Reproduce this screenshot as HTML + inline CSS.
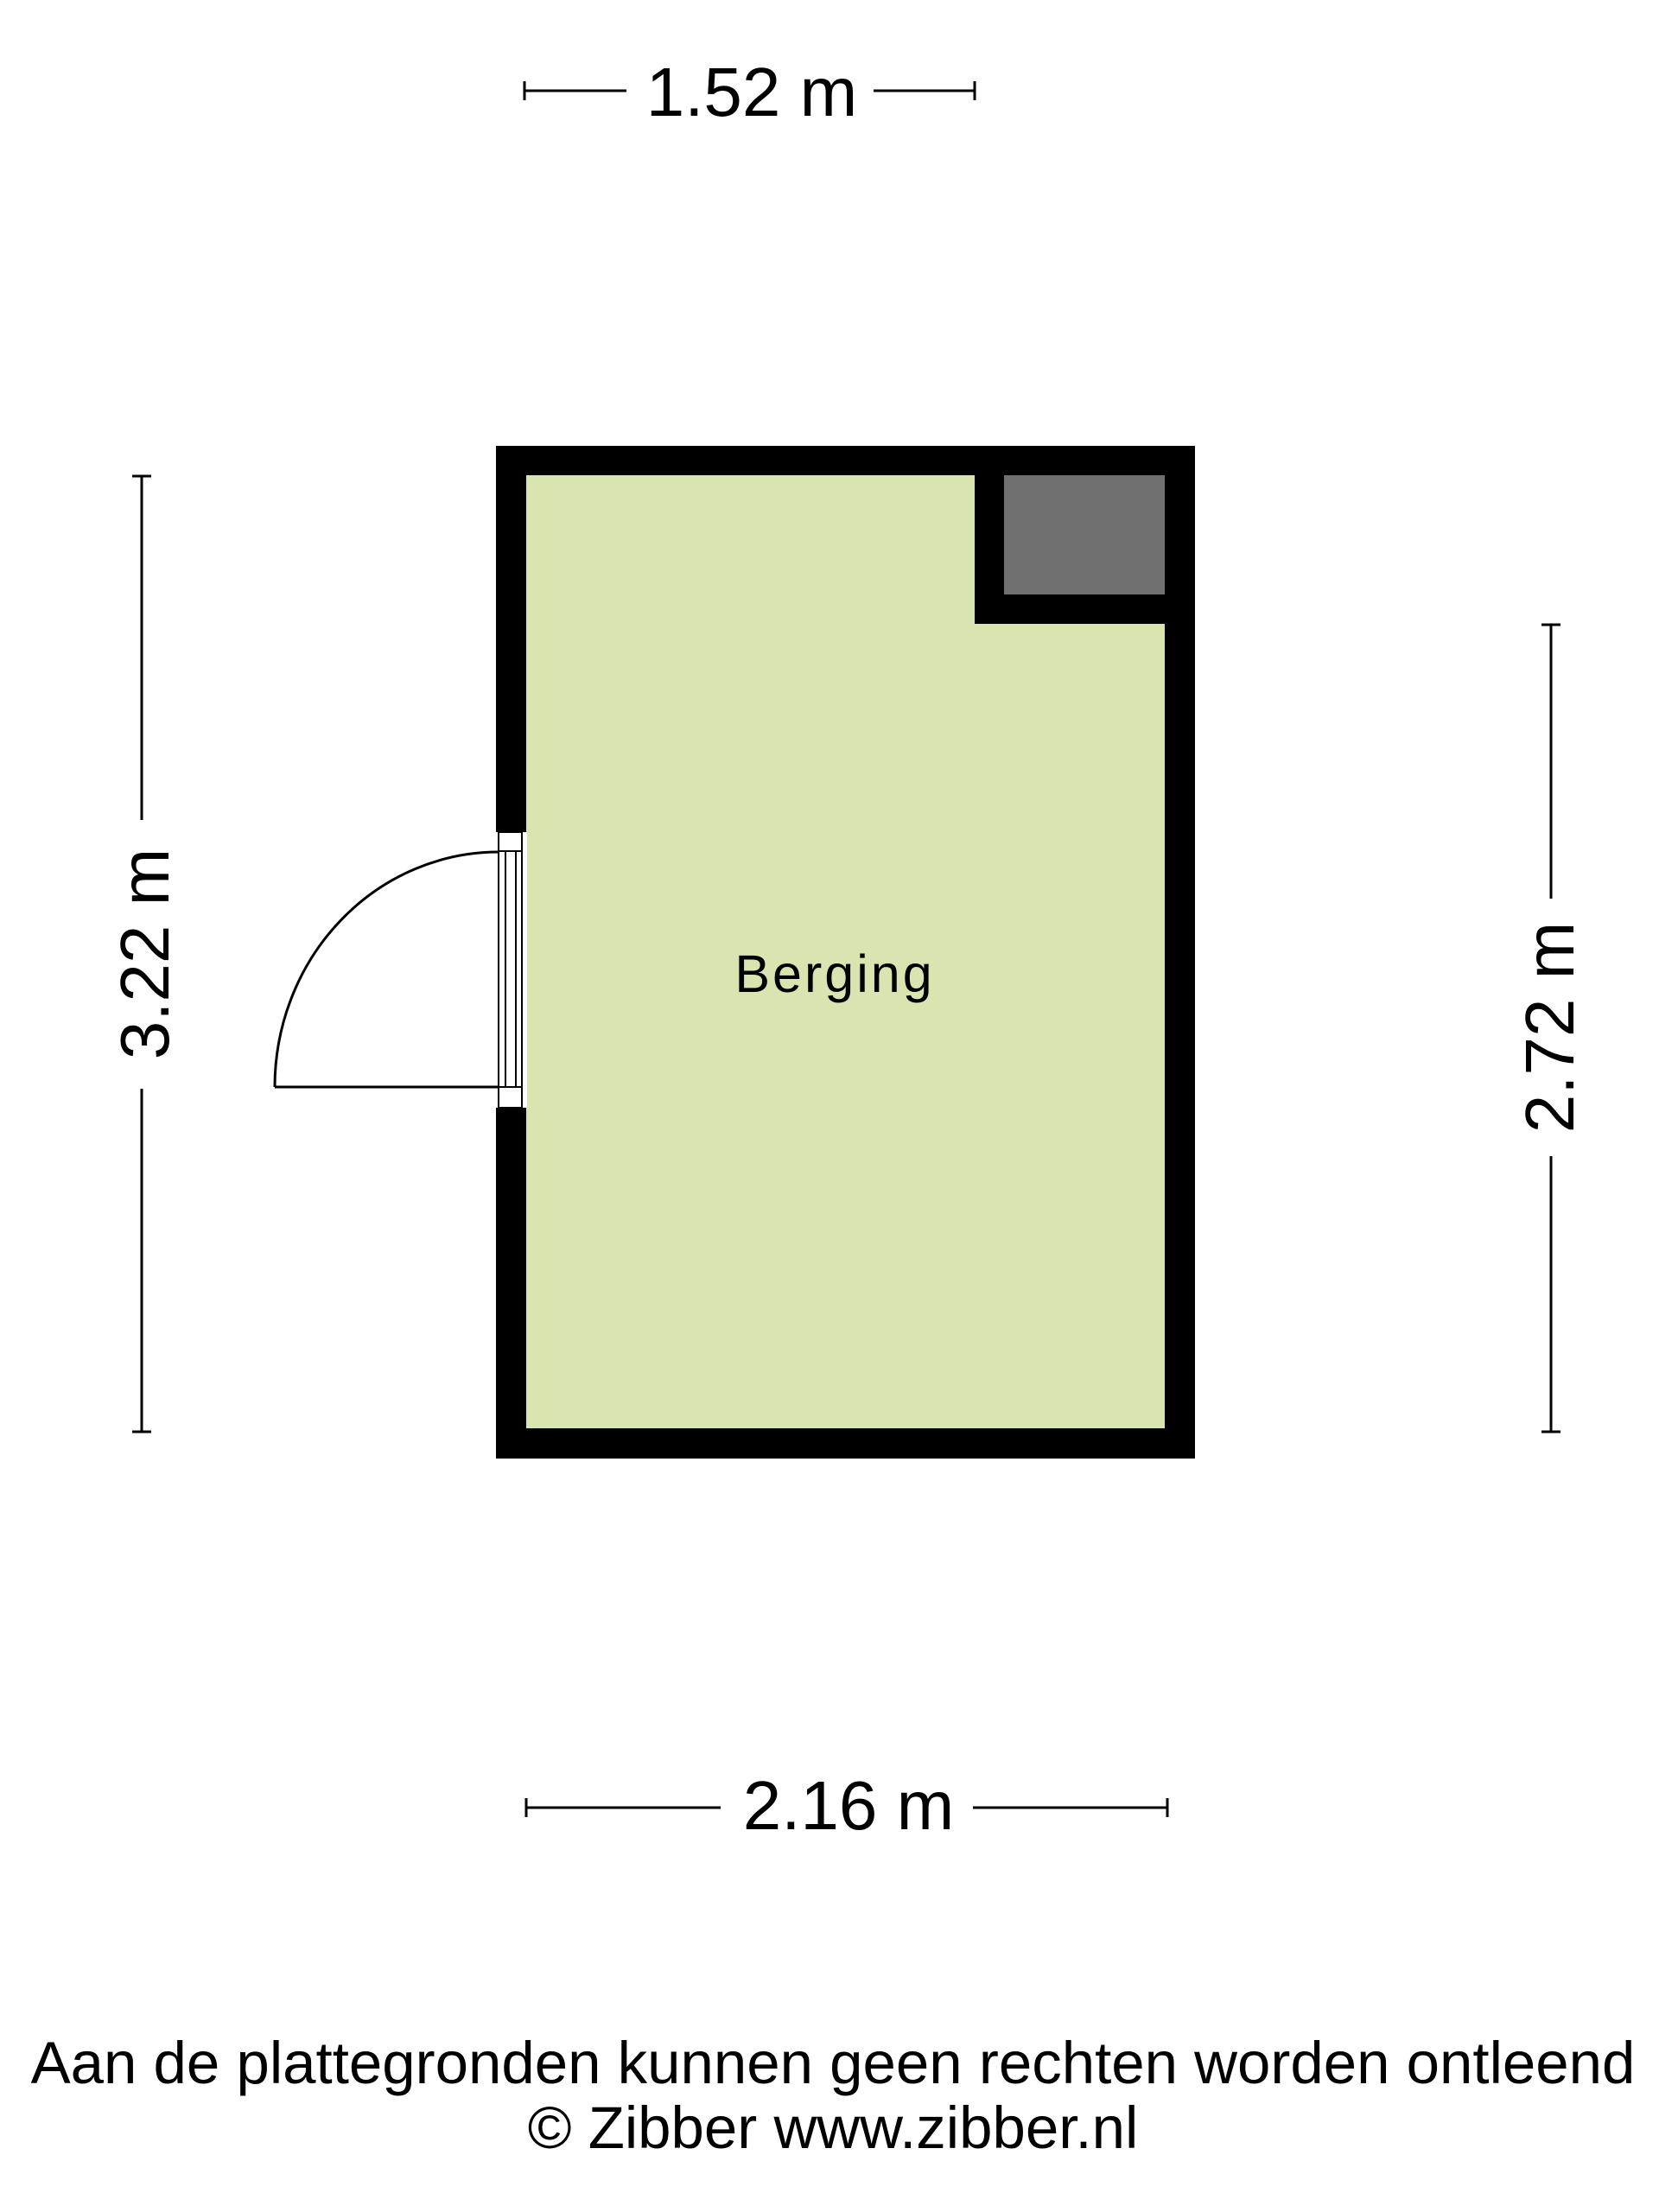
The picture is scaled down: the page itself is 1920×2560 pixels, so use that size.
<!DOCTYPE html>
<html><head><meta charset="utf-8"><style>
html,body{margin:0;padding:0;background:#fff;}
svg{display:block}
text{font-family:"Liberation Sans",Arial,sans-serif;fill:#000}
</style></head><body>
<svg width="1920" height="2560" viewBox="0 0 1920 2560" xmlns="http://www.w3.org/2000/svg">
<!-- room -->
<rect x="574" y="516" width="809" height="1172" fill="#000"/>
<rect x="609" y="550" width="739" height="1103" fill="#d9e5b0"/>
<rect x="1128" y="516" width="255" height="206" fill="#000"/>
<rect x="1162" y="550" width="186" height="138" fill="#707070"/>
<!-- door opening -->
<rect x="572" y="963" width="38" height="319" fill="#fff"/>
<rect x="577" y="963" width="27" height="22" fill="#fff" stroke="#000" stroke-width="2"/>
<rect x="577" y="1258" width="27" height="24" fill="#fff" stroke="#000" stroke-width="2"/>
<g stroke="#000" stroke-width="2" fill="none">
<line x1="577" y1="985" x2="577" y2="1258"/>
<line x1="585" y1="985" x2="585" y2="1258"/>
<line x1="597" y1="985" x2="597" y2="1258"/>
<line x1="604" y1="985" x2="604" y2="1258"/>
<line x1="318" y1="1258" x2="577" y2="1258" stroke-width="3"/>
<path d="M318 1258 A259 272 0 0 1 577 986" stroke-width="3"/>
</g>
<text x="966" y="1148" font-size="61" text-anchor="middle" letter-spacing="3">Berging</text>
<!-- dimensions -->
<g stroke="#000" stroke-width="3">
<line x1="607" y1="105" x2="725" y2="105"/><line x1="607" y1="94" x2="607" y2="116"/>
<line x1="1011" y1="105" x2="1128" y2="105"/><line x1="1128" y1="94" x2="1128" y2="116"/>
<line x1="609" y1="2092" x2="834" y2="2092"/><line x1="609" y1="2081" x2="609" y2="2103"/>
<line x1="1126" y1="2092" x2="1351" y2="2092"/><line x1="1351" y1="2081" x2="1351" y2="2103"/>
<line x1="164" y1="551" x2="164" y2="949"/><line x1="153" y1="551" x2="175" y2="551"/>
<line x1="164" y1="1260" x2="164" y2="1657"/><line x1="153" y1="1657" x2="175" y2="1657"/>
<line x1="1795" y1="723" x2="1795" y2="1040"/><line x1="1784" y1="723" x2="1806" y2="723"/>
<line x1="1795" y1="1338" x2="1795" y2="1657"/><line x1="1784" y1="1657" x2="1806" y2="1657"/>
</g>
<text x="870" y="134" font-size="80" text-anchor="middle">1.52 m</text>
<text x="982" y="2117" font-size="80" text-anchor="middle">2.16 m</text>
<text transform="translate(195,1104) rotate(-90)" font-size="80" text-anchor="middle">3.22 m</text>
<text transform="translate(1821,1189) rotate(-90)" font-size="80" text-anchor="middle">2.72 m</text>
<text x="964" y="2411" font-size="69" text-anchor="middle">Aan de plattegronden kunnen geen rechten worden ontleend</text>
<text x="964" y="2486" font-size="69" text-anchor="middle">© Zibber www.zibber.nl</text>
</svg>
</body></html>
